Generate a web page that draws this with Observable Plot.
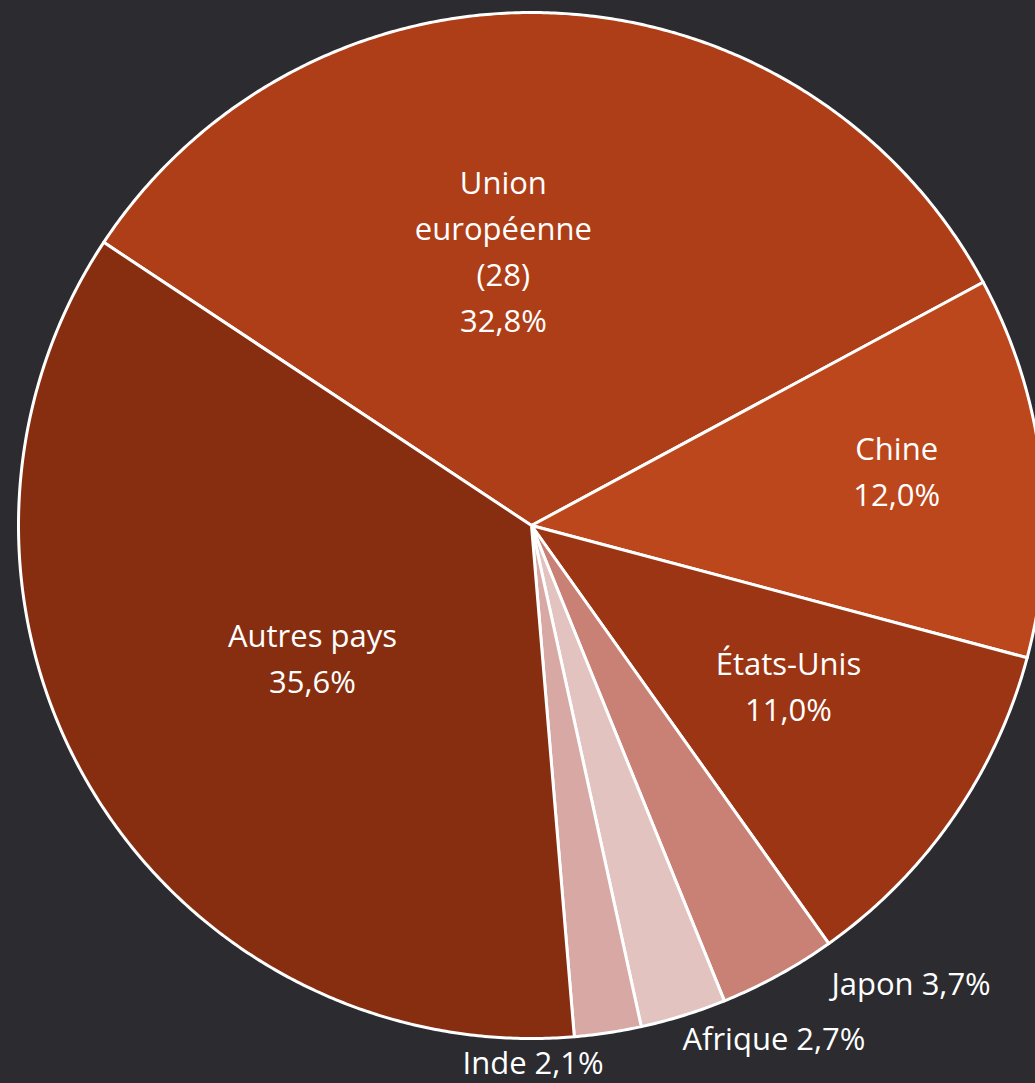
<!DOCTYPE html>
<html><head><meta charset="utf-8">
<script src="https://cdn.jsdelivr.net/npm/d3@7"></script>
<script src="https://cdn.jsdelivr.net/npm/@observablehq/plot@0.6"></script>
<style>
html,body{margin:0;padding:0;background:#2b2b30;overflow:hidden;}
#chart svg{display:block;}
</style>
</head><body><div id="chart"></div>
<script>
// Data
const categories = ["Union européenne (28)", "Chine", "États-Unis", "Japon", "Afrique", "Inde", "Autres pays"];
const shares = [32.8, 12.0, 11.0, 3.7, 2.7, 2.1, 35.6];
const shareLabels = ["32,8%", "12,0%", "11,0%", "3,7%", "2,7%", "2,1%", "35,6%"];
const nameLines = [["Union", "européenne", "(28)"], ["Chine"], ["États-Unis"], ["Japon"], ["Afrique"], ["Inde"], ["Autres pays"]];
const sliceColors = ["#ae3e17", "#bc471d", "#9b3513", "#c98176", "#e2c3c0", "#d7a8a4", "#882e10"];

// Layout (label placement relative to slice mid-angle, in degrees / radius units)
const W = 1035, H = 1083, CX = 531, CY = 525, R = 513;
const startDeg = -56.5;
const labelLayout = {
  "Union européenne (28)": {da: -8.5, r: 0.534, inside: true},
  "Chine": {da: -1.4, r: 0.719, inside: true},
  "États-Unis": {da: -2.4, r: 0.593, inside: true},
  "Japon": {da: -10.8, r: 1.162, inside: false},
  "Afrique": {da: -8.0, r: 1.109, inside: false},
  "Inde": {da: 8.4, r: 1.050, inside: false},
  "Autres pays": {da: -0.9, r: 0.501, inside: true}
};

const table = categories.map((c, i) => ({category: c, share: shares[i], label: shareLabels[i], lines: nameLines[i], color: sliceColors[i]}));
const start = startDeg * Math.PI / 180;
const arcs = d3.pie().sort(null).value(d => d.share).startAngle(start).endAngle(start + 2 * Math.PI)(table);

// Polygon outline of each slice (center -> arc -> center), computed from the pie angles
const polys = [];
for (const a of arcs) {
  const n = Math.max(2, Math.ceil((a.endAngle - a.startAngle) / (0.4 * Math.PI / 180)));
  polys.push({category: a.data.category, x: 0, y: 0});
  for (let k = 0; k <= n; k++) {
    const t = a.startAngle + (a.endAngle - a.startAngle) * k / n;
    polys.push({category: a.data.category, x: Math.sin(t), y: Math.cos(t)});
  }
  polys.push({category: a.data.category, x: 0, y: 0});
}

const labels = arcs.map(a => {
  const L = labelLayout[a.data.category];
  const t = (a.startAngle + a.endAngle) / 2 + L.da * Math.PI / 180;
  const text = L.inside ? [...a.data.lines, a.data.label].join("\n") : a.data.lines.join(" ") + " " + a.data.label;
  return {x: L.r * Math.sin(t), y: L.r * Math.cos(t), text};
});

const chart = Plot.plot({
  width: W, height: H, margin: 0,
  style: {background: "transparent", fontFamily: "'Open Sans', sans-serif", overflow: "visible"},
  x: {domain: [-CX / R, (W - CX) / R], range: [0, W], axis: null},
  y: {domain: [-(H - CY) / R, CY / R], range: [H, 0], axis: null},
  color: {domain: categories, range: sliceColors},
  marks: [
    Plot.line(polys, {x: "x", y: "y", z: "category", fill: "category", stroke: "white", strokeWidth: 3, strokeLinejoin: "round", curve: "linear"}),
    Plot.text(labels, {x: "x", y: "y", text: "text", fill: "white", fontSize: 31, lineHeight: 1.48, textAnchor: "middle", dy: -5})
  ]
});
document.getElementById("chart").appendChild(chart);
</script>
</body></html>
